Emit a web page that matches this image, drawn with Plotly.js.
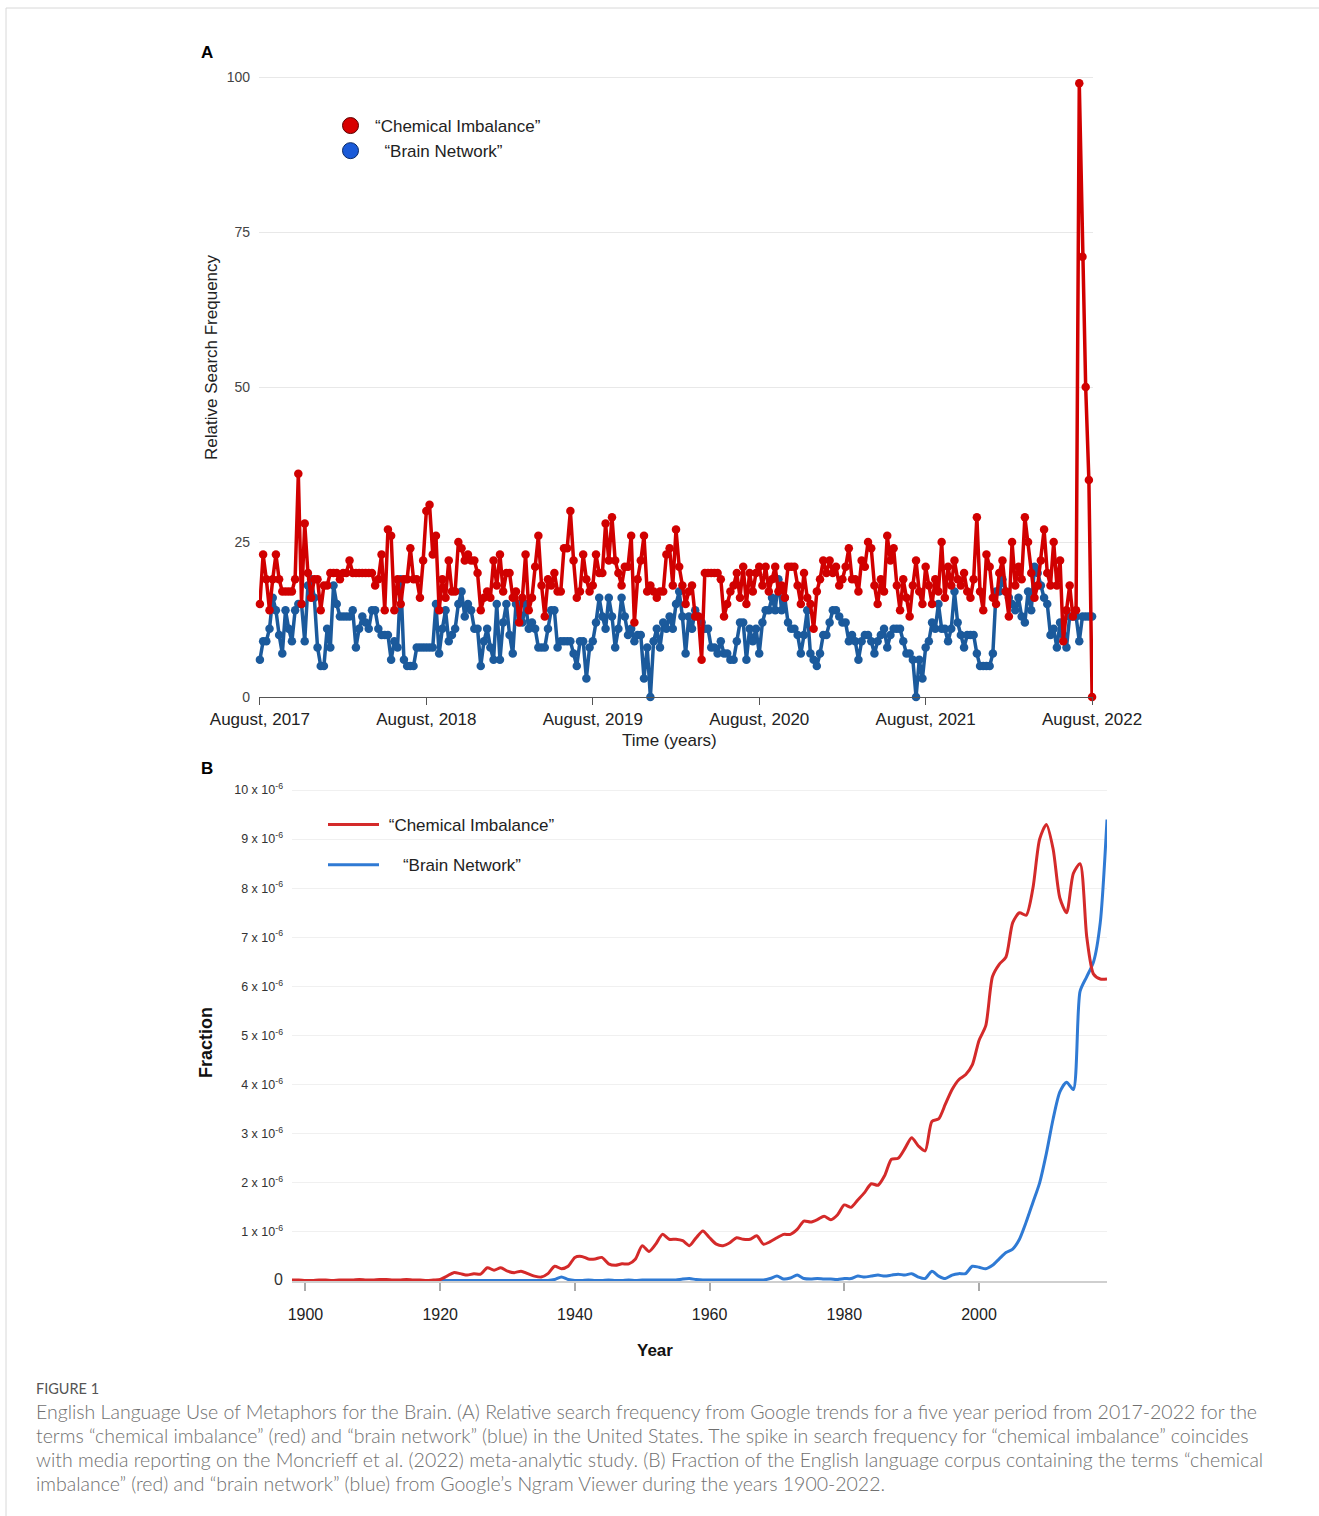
<!DOCTYPE html>
<html><head><meta charset="utf-8">
<script src="https://cdn.plot.ly/plotly-3.0.1.min.js"></script>
<style>html,body{margin:0;padding:0;background:#fff;overflow:hidden}</style>
</head><body><div id="chart" style="width:1319px;height:1516px"></div>
<script>
// ---------- Panel A: Google Trends (weekly, Aug 2017 - Aug 2022) ----------
const trendStartDate = '2017-08-13';
const chemicalTrend = [
15,23,19,14,19,23,19,17,17,17, 17,19,36,15,28,20,16,19,19,14, 18,18,20,20,20,19,20,20,22,20,
20,20,20,20,20,20,18,19,23,14, 27,26,14,19,15,19,19,24,19,19, 16,22,30,31,23,26,14,19,16,22,
17,17,25,24,
22,23,22,22,20,14,16,17,16,22, 18,23,17,20,20,16,17,12,16,23, 14,16,21,26,18,13,19,18,20,17,
17,24,24,30,22,16,17,23,19,17,
18,23,20,20,28,22,29,22,20,18, 21,21,26,12,19,22,26,17,18,17, 16,17,17,23,24,18,27,21,18,15,
17,18,13,13,6,20,20,20,20,20, 19,13,15,17,18,20,16,21,15,20, 17,20,
21,18,21,17,19,21,17,18,16,21, 21,21,18,15,20,16,15,11,17,19, 22,20,22,20,21,18,19,21,24,19,
19,17,22,21,25,24,18,15,19,17,
26,22,24,18,14,19,16,13,18,22, 17,15,21,18,15,19,17,25,16,21, 18,22,19,18,20,17,16,19,29,17,
14,23,21,16,15,20,22,17,13,25, 18,21,19,29,25,20,16,18,22,27, 20,18,25,18,22,9,14,18,13,14,
99,71,50,35,0
];
const brainTrend = [
6,9,9,11,16,14,10,7,14,11, 9,14,15,15,9,18,19,16,8,5, 5,11,8,18,15,13,13,13,13,14,
8,11,13,12,11,14,14,11,10,10, 10,6,9,8,19,6,5,5,5,8, 8,8,8,8,8,15,7,11,14,9, 10,11,15,17,
13,15,14,11,11,5,9,11,8,6, 15,6,12,15,10,7,15,15,12,15, 11,12,11,8,8,8,11,14,14,8,
9,9,9,9,7,5,9,9,3,8, 9,12,16,13,11,16,13,8,11,16, 13,10,11,9,10,10,3,8,0,9, 11,8,12,11,13,11,15,
17,13,7,13,11,14,13,12,11,11, 8,8,7,9,7,7,6,6,9,12, 12,6,11,9,11,7,12,14,14,16,
14,19,14,16,12,11,11,10,7,10, 14,7,6,5,7,10,10,12,14,14, 13,12,12,9,10,9,6,9,10,10, 9,7,9,10,11,8,
10,11,11,11,9,7,7,6,0,6, 3,8,9,12,11,15,11,11,9,11, 17,12,10,8,10,10,10,7,5,5,
5,5,7,17,17,19,17,16,15,14, 16,13,12,17,14,21,20,18,16,15, 10,11,8,12,10,8,13,13,13,9, 13,13,13,13
];
const trendTickDates = ['2017-08-13','2018-08-12','2019-08-11','2020-08-09','2021-08-08','2022-08-07'];
const trendTickLabels = ['August, 2017','August, 2018','August, 2019','August, 2020','August, 2021','August, 2022'];
const trendYTicks = [0,25,50,75,100];
const trendNames = ['\u201CChemical Imbalance\u201D', '\u00A0\u00A0\u201CBrain Network\u201D'];
const trendAxisTitles = ['Time (years)', 'Relative Search Frequency'];

// ---------- Panel B: Google Ngram (yearly, fraction x 10^-6) ----------
const ngramStartYear = 1898;
const chemicalNgram = [
0.02,0.02,0.01,0.01,0.02,0.02,0.01,0.02,0.02,0.02, 0.03,0.02,0.02,0.03,0.03,0.02,0.02,0.03,0.02,0.02,
0.01,0.02,0.03,0.10,0.17,0.15,0.12,0.15,0.14,0.27, 0.22,0.27,0.20,0.17,0.20,0.15,0.10,0.08,0.15,0.30,
0.25,0.30,0.48,0.50,0.45,0.45,0.48,0.35,0.32,0.35, 0.35,0.45,0.72,0.60,0.75,0.95,0.85,0.85,0.82,0.72,
0.88,1.02,0.88,0.75,0.72,0.78,0.88,0.85,0.85,0.92, 0.75,0.80,0.88,0.95,0.95,1.05,1.22,1.20,1.25,1.32,
1.25,1.35,1.55,1.50,1.65,1.80,1.98,1.95,2.15,2.48, 2.50,2.70,2.92,2.75,2.65,3.25,3.30,3.60,3.90,4.10,
4.20,4.40,4.90,5.20,6.20,6.45,6.60,7.30,7.50,7.45, 8.00,9.00,9.30,8.80,7.80,7.50,8.30,8.50,7.00,6.25,
6.15,6.15
];
const brainNgram = [
0.01,0.01,0.01,0.01,0.01,0.01,0.01,0.01,0.01,0.01, 0.01,0.01,0.01,0.01,0.01,0.01,0.01,0.01,0.01,0.01,
0.01,0.01,0.01,0.01,0.01,0.01,0.01,0.01,0.01,0.01, 0.01,0.01,0.01,0.01,0.01,0.01,0.01,0.01,0.01,0.03,
0.08,0.03,0.01,0.01,0.02,0.01,0.01,0.02,0.01,0.01, 0.02,0.01,0.02,0.02,0.02,0.02,0.02,0.02,0.04,0.05,
0.03,0.02,0.02,0.02,0.02,0.02,0.02,0.02,0.02,0.02, 0.02,0.05,0.10,0.04,0.06,0.12,0.05,0.04,0.05,0.04,
0.04,0.03,0.05,0.05,0.10,0.08,0.10,0.12,0.10,0.12, 0.14,0.12,0.15,0.08,0.05,0.20,0.10,0.05,0.12,0.15,
0.15,0.30,0.28,0.25,0.32,0.45,0.58,0.65,0.85,1.20, 1.60,2.00,2.60,3.30,3.85,4.05,3.90,5.90,6.20,6.50,
7.30,9.40
];
const ngramTickYears = [1900,1920,1940,1960,1980,2000];
const fractionTickVals = [0,1,2,3,4,5,6,7,8,9,10];
const fractionTickText = ['<span style="font-size:16px">0</span>','1 x 10<sup>-6</sup>','2 x 10<sup>-6</sup>','3 x 10<sup>-6</sup>','4 x 10<sup>-6</sup>','5 x 10<sup>-6</sup>','6 x 10<sup>-6</sup>','7 x 10<sup>-6</sup>','8 x 10<sup>-6</sup>','9 x 10<sup>-6</sup>','10 x 10<sup>-6</sup>'];
const ngramNames = ['\u00A0\u201CChemical Imbalance\u201D', '\u00A0\u00A0\u00A0\u00A0\u201CBrain Network\u201D'];
const ngramAxisTitles = ['Year', 'Fraction'];

const captionTitle = 'FIGURE 1';
const captionLines = [
 'English Language Use of Metaphors for the Brain. (A) Relative search frequency from Google trends for a five year period from 2017-2022 for the',
 'terms \u201Cchemical imbalance\u201D (red) and \u201Cbrain network\u201D (blue) in the United States. The spike in search frequency for \u201Cchemical imbalance\u201D coincides',
 'with media reporting on the Moncrieff et al. (2022) meta-analytic study. (B) Fraction of the English language corpus containing the terms \u201Cchemical',
 'imbalance\u201D (red) and \u201Cbrain network\u201D (blue) from Google\u2019s Ngram Viewer during the years 1900-2022.'
];

// ---------- build x values ----------
const trendDates = chemicalTrend.map((_, i) => {
  const d = new Date(trendStartDate + 'T00:00:00Z');
  d.setUTCDate(d.getUTCDate() + 7 * i);
  return d.toISOString().slice(0, 10);
});
const ngramYears = chemicalNgram.map((_, i) => ngramStartYear + i);

const W = 1319, H = 1516;
const fx = x => x / W;
const fy = y => 1 - y / H;

const RED_A = '#d10000', BLUE_A = '#1b5a9c';
const RED_B = '#d42a2a', BLUE_B = '#2f7ad4';
const FONT = 'Liberation Sans, Arial, sans-serif';

const traces = [
  {x: trendDates, y: brainTrend, type: 'scatter', mode: 'lines+markers', xaxis: 'x', yaxis: 'y',
   line: {color: BLUE_A, width: 3.5}, marker: {color: BLUE_A, size: 8.5}, showlegend: false, cliponaxis: false, name: 'Brain Network'},
  {x: trendDates, y: chemicalTrend, type: 'scatter', mode: 'lines+markers', xaxis: 'x', yaxis: 'y',
   line: {color: RED_A, width: 3.5}, marker: {color: RED_A, size: 8.5}, showlegend: false, cliponaxis: false, name: 'Chemical Imbalance'},
  {x: [null], y: [null], type: 'scatter', mode: 'markers', xaxis: 'x', yaxis: 'y', legend: 'legend',
   marker: {color: '#d80000', size: 16, line: {color: '#5a0000', width: 1}}, name: trendNames[0]},
  {x: [null], y: [null], type: 'scatter', mode: 'markers', xaxis: 'x', yaxis: 'y', legend: 'legend',
   marker: {color: '#1a5ad8', size: 16, line: {color: '#0b2a66', width: 1}}, name: trendNames[1]},
  {x: ngramYears, y: brainNgram, type: 'scatter', mode: 'lines', xaxis: 'x2', yaxis: 'y2', legend: 'legend2',
   legendgroup: 'b', legendrank: 2,
   line: {color: BLUE_B, width: 3, shape: 'spline', smoothing: 0.7}, cliponaxis: false, name: ngramNames[1]},
  {x: ngramYears, y: chemicalNgram, type: 'scatter', mode: 'lines', xaxis: 'x2', yaxis: 'y2', legend: 'legend2',
   legendgroup: 'c', legendrank: 1,
   line: {color: RED_B, width: 3, shape: 'spline', smoothing: 0.7}, cliponaxis: false, name: ngramNames[0]}
];

function ann(text, x, y, opts) {
  return Object.assign({text: text, x: fx(x), y: fy(y), xref: 'paper', yref: 'paper',
    xanchor: 'center', yanchor: 'middle', showarrow: false}, opts || {});
}
const annotations = [
  ann('<b>A</b>', 207, 52, {font: {size: 17, color: '#000'}}),
  ann('<b>B</b>', 207, 768, {font: {size: 17, color: '#000'}}),
  ann(trendAxisTitles[0], 669, 740, {font: {size: 17, color: '#222'}}),
  ann(trendAxisTitles[1], 212, 357, {textangle: -90, font: {size: 17, color: '#222'}}),
  ann('<b>' + ngramAxisTitles[0] + '</b>', 655, 1350, {font: {size: 17, color: '#111'}}),
  ann('<b>' + ngramAxisTitles[1] + '</b>', 206, 1043, {textangle: -90, font: {size: 18, color: '#111'}}),
  ann(captionTitle, 34, 1388, {xanchor: 'left', font: {family: 'Lato, sans-serif', size: 14.5, color: '#555'}})
];
captionLines.forEach((t, i) => annotations.push(
  ann(t, 34, 1411 + 24 * i, {xanchor: 'left', font: {family: 'Lato, sans-serif', size: 19.5, weight: 300, color: '#6f6f6f'}})
));

const layout = {
  width: W, height: H, autosize: false,
  margin: {l: 0, r: 0, t: 0, b: 0},
  paper_bgcolor: '#fff', plot_bgcolor: '#fff',
  font: {family: FONT, color: '#222'},
  xaxis: {domain: [fx(259), fx(1093)], type: 'date', range: ['2017-08-11', '2022-08-09'], anchor: 'y',
    tickvals: trendTickDates, ticktext: trendTickLabels, ticks: 'outside', ticklen: 7, tickcolor: '#555',
    showline: true, linecolor: '#555', linewidth: 1, showgrid: false, zeroline: false,
    tickfont: {size: 17, color: '#222'}},
  yaxis: {domain: [fy(697), fy(73.9)], range: [0, 100.5], anchor: 'x', tickvals: trendYTicks,
    showgrid: true, gridcolor: '#e8e8e8', zeroline: false, showline: false, ticks: '',
    tickfont: {size: 14, color: '#444'}, ticklabelstandoff: 8},
  xaxis2: {domain: [fx(292), fx(1107)], range: [1898, 2019], anchor: 'y2',
    tickvals: ngramTickYears, ticks: 'outside', ticklen: 8, tickwidth: 2, tickcolor: '#aaa',
    showline: true, linecolor: '#cfcfcf', linewidth: 2, showgrid: false, zeroline: false,
    tickfont: {size: 16, color: '#222'}, ticklabelstandoff: 10},
  yaxis2: {domain: [fy(1281), fy(785.1)], range: [0, 10.1], anchor: 'x2',
    tickvals: fractionTickVals, ticktext: fractionTickText,
    showgrid: true, gridcolor: '#f0f0f0', zeroline: false, showline: false, ticks: '',
    tickfont: {size: 12.5, color: '#333'}, ticklabelstandoff: 8},
  legend: {x: fx(326), y: fy(108), xanchor: 'left', yanchor: 'top', bgcolor: 'rgba(0,0,0,0)',
    font: {size: 17, color: '#222'}, itemwidth: 39},
  legend2: {x: fx(323), y: fy(807), xanchor: 'left', yanchor: 'top', bgcolor: 'rgba(0,0,0,0)',
    font: {size: 17, color: '#222'}, itemwidth: 51, traceorder: 'grouped', tracegroupgap: 15},
  shapes: [
    {type: 'line', xref: 'paper', yref: 'paper', x0: fx(6), x1: 1, y0: fy(8), y1: fy(8), line: {color: '#d8d8d8', width: 1}},
    {type: 'line', xref: 'paper', yref: 'paper', x0: fx(6), x1: fx(6), y0: fy(8), y1: 0, line: {color: '#d8d8d8', width: 1}}
  ],
  annotations: annotations
};

Plotly.newPlot('chart', traces, layout, {displayModeBar: false, staticPlot: true});
</script></body></html>
